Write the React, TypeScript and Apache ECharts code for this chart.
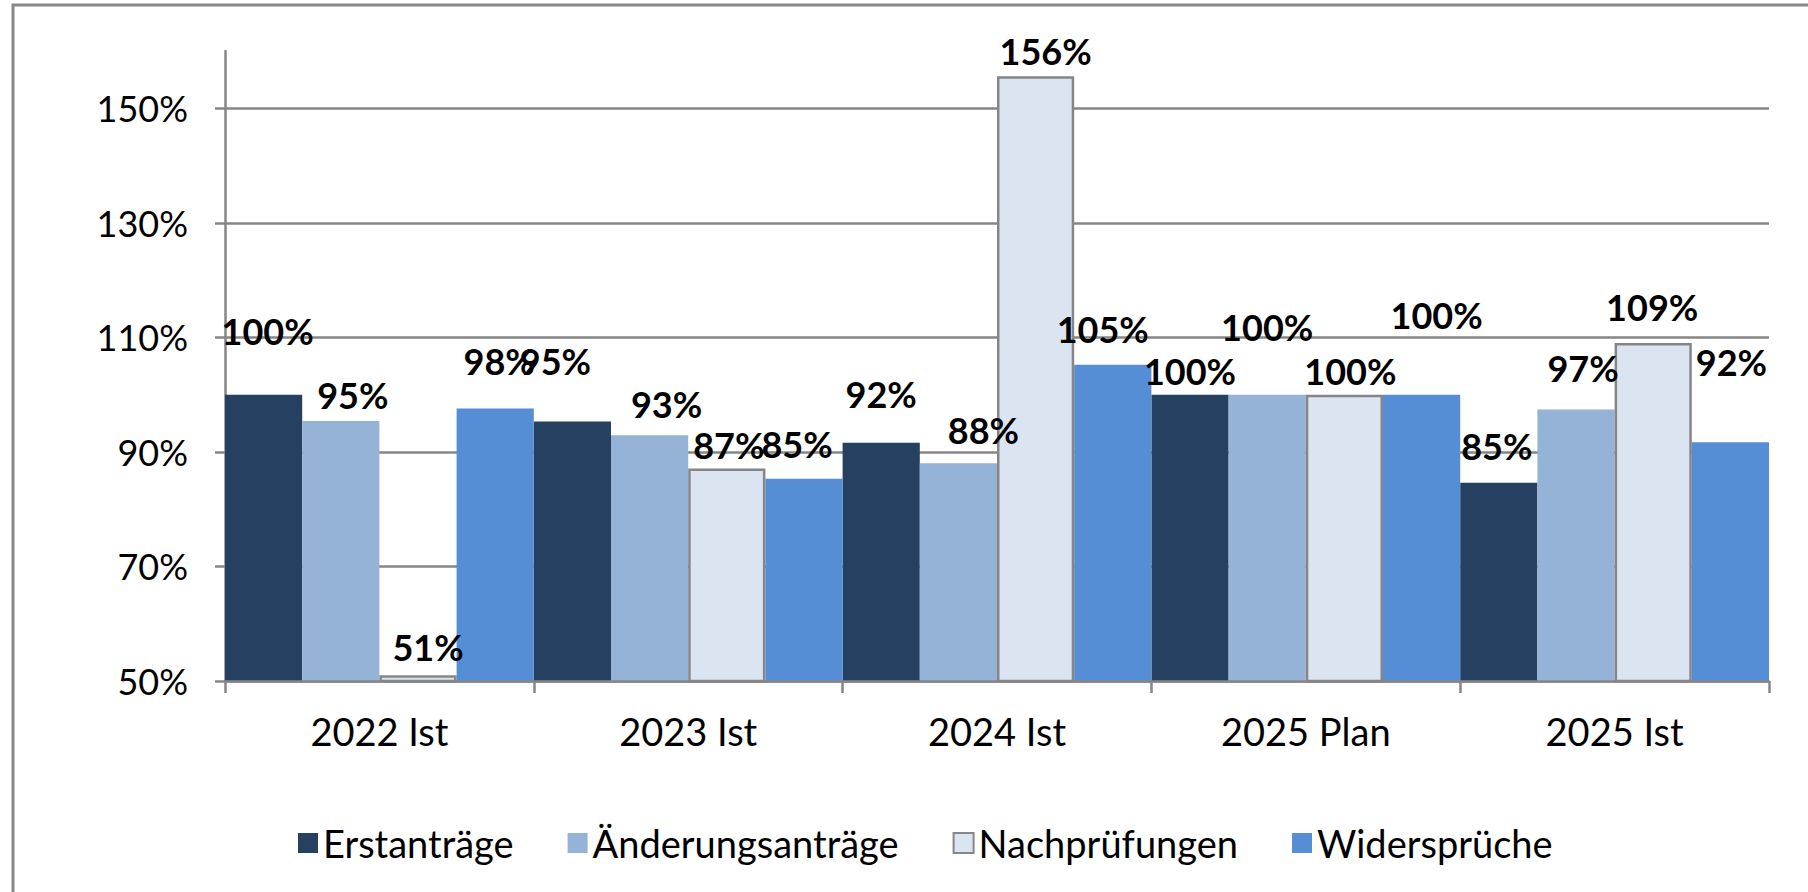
import React, { useEffect, useRef } from "react";
import * as echarts from "echarts";

const categories = ["2022 Ist", "2023 Ist", "2024 Ist", "2025 Plan", "2025 Ist"];
const seriesNames = ["Erstanträge", "Änderungsanträge", "Nachprüfungen", "Widersprüche"];
const erstantraege = [100, 95.3, 91.6, 100, 84.6];
const aenderungsantraege = [95.4, 92.9, 88.0, 100, 97.4];
const nachpruefungen = [51, 87.1, 155.6, 100, 109.0];
const widersprueche = [97.6, 85.3, 105.2, 100, 91.7];
const yTicks = [50, 70, 90, 110, 130, 150];

// label placement nudges (px) mimicking the reference's manually placed labels
const labelDx = [
  [4, -17, 0, 0, -2],
  [12, 17, 25, 0, 7],
  [10, 2, 10, 6, -1],
  [4, -7, -10, 15, 1],
];
const labelLift = [
  [41, 38, 26, 1, 14],
  [3, 8, 10, 45, 19],
  [5, 1, 2, 1, 13],
  [24, 12, 13, 57, 57],
];

const colors = ["#264061", "#95B3D7", "#DBE5F1", "#558ED5"];
const FONT = "Lato";

export default function App() {
  const ref = useRef<HTMLDivElement>(null);
  useEffect(() => {
    if (!ref.current) return;
    const chart = echarts.init(ref.current, null, { renderer: "svg" });
    const values = [erstantraege, aenderungsantraege, nachpruefungen, widersprueche];
    const series = values.map((vals, si) => ({
      name: seriesNames[si],
      type: "bar",
      barGap: "0%",
      barCategoryGap: "0%",
      itemStyle:
        si === 2
          ? { color: colors[si], borderColor: "#868686", borderWidth: 2.5 }
          : { color: colors[si] },
      label: {
        show: true,
        position: "top",
        distance: 5,
        fontFamily: FONT,
        fontSize: 36,
        fontWeight: "bold",
        color: "#000",
        formatter: (p: any) => Math.round(p.value) + "%",
      },
      data: vals.map((v, ci) => ({
        value: v,
        label: { offset: [labelDx[si][ci], -labelLift[si][ci]] },
      })),
    }));
    chart.setOption({
      animation: false,
      backgroundColor: "#fff",
      textStyle: { fontFamily: FONT },
      grid: { left: 225, right: 39, top: 51, bottom: 211, containLabel: false },
      graphic: [
        {
          type: "rect",
          z: -10,
          shape: { x: 13, y: 5, width: 1830, height: 920 },
          style: { fill: "none", stroke: "#888888", lineWidth: 3 },
        },
      ],
      legend: {
        data: seriesNames,
        left: 293,
        top: 819,
        icon: "rect",
        itemWidth: 20,
        itemHeight: 20,
        itemGap: 54,
        textStyle: { fontFamily: FONT, fontSize: 38, color: "#000" },
      },
      xAxis: {
        type: "category",
        data: categories,
        z: 5,
        axisLine: { lineStyle: { color: "#868686", width: 2.5 } },
        axisTick: { show: true, length: 12, lineStyle: { color: "#868686", width: 2.5 } },
        axisLabel: { fontFamily: FONT, fontSize: 38, color: "#000", margin: 31 },
      },
      yAxis: {
        type: "value",
        min: 50,
        max: 160,
        axisLine: { show: true, lineStyle: { color: "#868686", width: 2.5 } },
        axisTick: {
          show: true,
          length: 10,
          customValues: yTicks,
          lineStyle: { color: "#868686", width: 2.5 },
        },
        splitLine: { show: true, lineStyle: { color: "#868686", width: 2.5 } },
        axisLabel: {
          fontFamily: FONT,
          fontSize: 36,
          color: "#000",
          margin: 37,
          customValues: yTicks,
          formatter: (v: number) => v + "%",
        },
      },
      series,
    });
    return () => chart.dispose();
  }, []);
  return <div ref={ref} style={{ position: "fixed", left: 0, top: 0, width: 1808, height: 892 }} />;
}
